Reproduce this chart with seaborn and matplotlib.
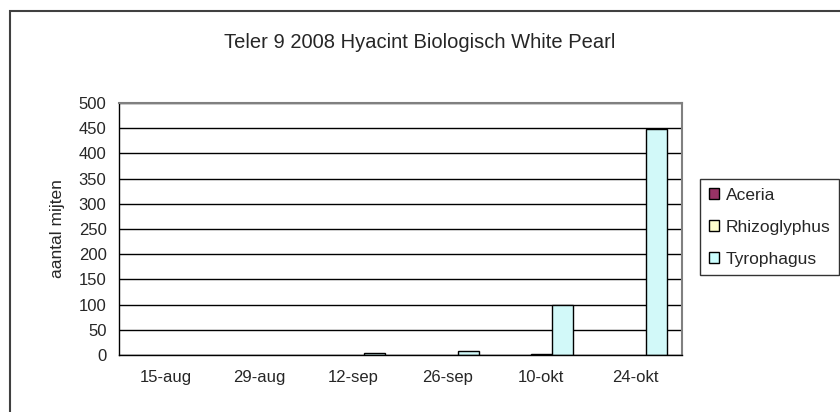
import matplotlib
matplotlib.use('Agg')
import matplotlib.pyplot as plt
from matplotlib.patches import Patch, Rectangle
import pandas as pd
import seaborn as sns

# data
dates = ['15-aug', '29-aug', '12-sep', '26-sep', '10-okt', '24-okt']
series = ['Aceria', 'Rhizoglyphus', 'Tyrophagus']
aceria = [0, 0, 0, 0, 0, 0]
rhizoglyphus = [0, 0, 0, 0, 2, 0]
tyrophagus = [0, 0, 3, 7, 100, 448]
colors = ['#993366', '#FFFFCC', '#CCFFFF']
yticks = [0, 50, 100, 150, 200, 250, 300, 350, 400, 450, 500]

df = pd.DataFrame({
    'datum': dates * 3,
    'soort': [s for s in series for _ in dates],
    'aantal': aceria + rhizoglyphus + tyrophagus,
})

sns.set_style('white')
plt.rcParams['font.family'] = ['Liberation Sans', 'DejaVu Sans']

fig = plt.figure(figsize=(8.4, 4.12), dpi=100)
ax = fig.add_axes([119/840, 57/412, 563/840, 252/412])

sns.barplot(data=df, x='datum', y='aantal', hue='soort', hue_order=series,
            palette=colors, width=0.68, gap=0, edgecolor='black', linewidth=1,
            legend=False, ax=ax)

# Excel draws nothing for zero values
for p in ax.patches:
    if p.get_height() == 0:
        p.set_linewidth(0)

ax.set_ylim(0, 500)
ax.set_xlim(-0.5, 5.5)
ax.set_yticks(yticks)
ax.yaxis.grid(True, color='black', linewidth=1)
ax.set_axisbelow(True)

ax.set_xticks(range(len(dates)))
ax.set_xticklabels(dates)
ax.set_xticks([i - 0.5 for i in range(len(dates) + 1)], minor=True)
ax.tick_params(axis='x', which='major', length=0, pad=11, labelsize=12)
ax.tick_params(axis='x', which='minor', direction='out', length=5, width=1, color='black')
ax.tick_params(axis='y', direction='out', length=6, width=1, color='black', labelsize=12, pad=3)

for s in ['left', 'bottom']:
    ax.spines[s].set_color('black')
    ax.spines[s].set_linewidth(1)
for s in ['top', 'right']:
    ax.spines[s].set_color('#808080')
    ax.spines[s].set_linewidth(1.5)

ax.set_xlabel('')
ax.set_ylabel('aantal mijten', fontsize=12.5, labelpad=10)

fig.text(420/840, 1 - 42/412, 'Teler 9 2008 Hyacint Biologisch White Pearl',
         ha='center', va='center', fontsize=14.5)

handles = [Patch(facecolor=c, edgecolor='black', linewidth=1) for c in colors]
leg = fig.legend(handles, series, loc='upper left', bbox_to_anchor=(700/840, 1 - 179/412),
                 frameon=True, fancybox=False, edgecolor='black', fontsize=12.5,
                 handlelength=0.6, handleheight=0.6, handletextpad=0.4,
                 labelspacing=0.98, borderpad=0.5, borderaxespad=0)
leg.get_frame().set_linewidth(1)

# outer chart border
fig.patches.append(Rectangle((10/840, -0.05), 1.0, 1 - 11/412 + 0.05,
                             transform=fig.transFigure, fill=False,
                             edgecolor='#404040', linewidth=1.5))

fig.savefig('out.png', dpi=100)
